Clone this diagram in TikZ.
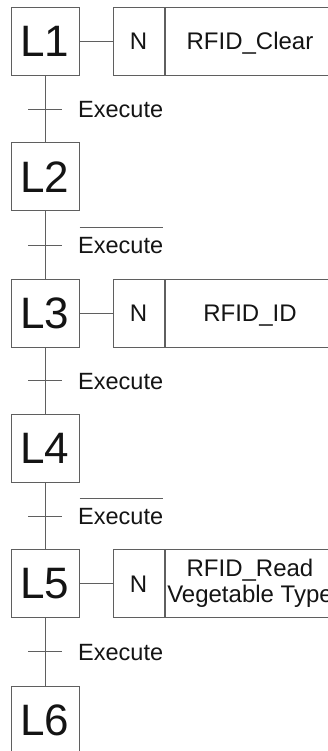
\documentclass[tikz,border=0pt]{standalone}
\usepackage{fontspec}
\setmainfont{Liberation Sans}
\definecolor{linegray}{RGB}{95,95,95}
\definecolor{ink}{RGB}{20,20,20}
\begin{document}
\begin{tikzpicture}[x=1pt,y=-1pt,
  line/.style={draw=linegray, line width=1pt},
  stepbox/.style={line, minimum width=68pt, minimum height=68pt, inner sep=0pt,
    text=ink, font=\fontsize{44}{44}\selectfont},
  qual/.style={line, minimum width=51pt, minimum height=68pt, inner sep=0pt,
    text=ink, font=\fontsize{24}{26}\selectfont, text height=17pt, text depth=0pt},
  actbox/.style={line, minimum width=170pt, minimum height=68pt, inner sep=0pt,
    text=ink, font=\fontsize{24}{26}\selectfont, align=center},
  cond/.style={anchor=west, inner sep=0pt, text=ink,
    font=\fontsize{23.5}{26}\selectfont, text height=17pt, text depth=0pt},
]
\useasboundingbox (0,0) rectangle (328,751);
\clip (0,0) rectangle (328,751);

% steps
\node[stepbox] (s1) at (45,41.5) {L1};
\node[stepbox] (s2) at (45,177) {L2};
\node[stepbox] (s3) at (45,313) {L3};
\node[stepbox] (s4) at (45,448) {L4};
\node[stepbox] (s5) at (45,583.5) {L5};
\node[stepbox] (s6) at (45,720) {L6};

% links between steps
\draw[line] (s1) -- (s2);
\draw[line] (s2) -- (s3);
\draw[line] (s3) -- (s4);
\draw[line] (s4) -- (s5);
\draw[line] (s5) -- (s6);

% transitions
\coordinate (t1) at (45,109.5);
\coordinate (t2) at (45,245);
\coordinate (t3) at (45,380.5);
\coordinate (t4) at (45,516);
\coordinate (t5) at (45,651.5);
\foreach \t in {t1,t2,t3,t4,t5}
  \draw[line] ([xshift=-17pt]\t) -- ([xshift=17pt]\t);

\node[cond] (c1) at (78,109.5) {Execute};
\node[cond] (c2) at (78,245) {Execute};
\node[cond] (c3) at (78,380.5) {Execute};
\node[cond] (c4) at (78,516) {Execute};
\node[cond] (c5) at (78,651.5) {Execute};
\draw[line] ([xshift=1.5pt,yshift=8.5pt]c2.north west) -- ([xshift=-0.5pt,yshift=8.5pt]c2.north east);
\draw[line] ([xshift=1.5pt,yshift=8.5pt]c4.north west) -- ([xshift=-0.5pt,yshift=8.5pt]c4.north east);

% actions
\node[qual] (n1) at (138.5,41.5) {N};
\node[actbox, anchor=west, text height=17pt, text depth=0pt] (a1) at (n1.east) {RFID\_Clear};
\node[qual] (n3) at (138.5,313) {N};
\node[actbox, anchor=west, text height=17pt, text depth=0pt] (a3) at (n3.east) {RFID\_ID};
\node[qual] (n5) at (138.5,583.5) {N};
\node[actbox, anchor=west] (a5) at (n5.east) {RFID\_Read\\Vegetable Type};

\draw[line] (s1) -- (n1);
\draw[line] (s3) -- (n3);
\draw[line] (s5) -- (n5);
\end{tikzpicture}
\end{document}
